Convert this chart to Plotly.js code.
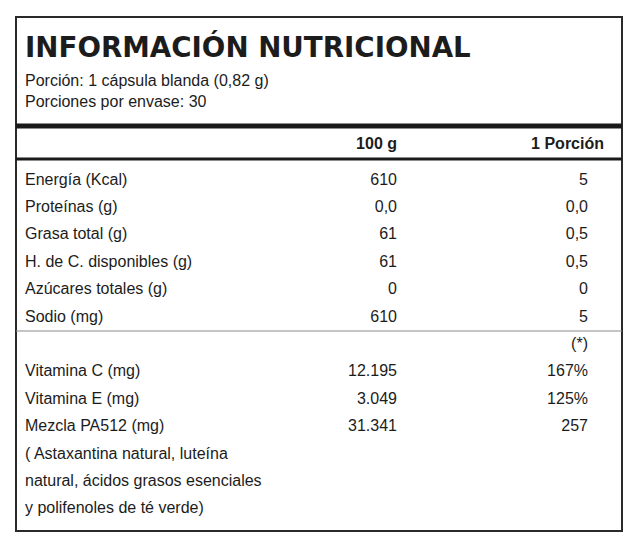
<!DOCTYPE html>
<html>
<head>
<meta charset="utf-8">
<script src="https://cdn.plot.ly/plotly-3.0.1.min.js"></script>
<style>
  html, body { margin: 0; padding: 0; background: #fff; }
  #chart { width: 638px; height: 550px; }
</style>
</head>
<body>
<div id="chart"></div>
<script>
(function () {
  'use strict';

  /* ---- datos de la tabla ---- */
  var TITLE = 'INFORMACIÓN NUTRICIONAL';
  var SUBTITLE = ['Porción: 1 cápsula blanda (0,82 g)', 'Porciones por envase: 30'];
  var COL_HEADERS = ['100 g', '1 Porción'];
  var NUTRIENTS = ['Energía (Kcal)', 'Proteínas (g)', 'Grasa total (g)', 'H. de C. disponibles (g)', 'Azúcares totales (g)', 'Sodio (mg)'];
  var PER_100G = ['610', '0,0', '61', '61', '0', '610'];
  var PER_PORTION = ['5', '0,0', '0,5', '0,5', '0', '5'];
  var EXTRA_NOTE = '(*)';
  var EXTRAS = ['Vitamina C (mg)', 'Vitamina E (mg)', 'Mezcla PA512 (mg)'];
  var EXTRA_100G = ['12.195', '3.049', '31.341'];
  var EXTRA_PORTION = ['167%', '125%', '257'];
  var BLEND_LINES = ['( Astaxantina natural, luteína', 'natural, ácidos grasos esenciales', 'y polifenoles de té verde)'];

  /* ---- geometría (px) ---- */
  var W = 638, H = 550;
  var ROW0 = 180.5, ROW_H = 27.4;
  var X_LABEL = 25, X_COL1 = 397, X_COL2 = 588, X_HEAD2 = 604;
  var INK = '#1c1c1c';
  var BODY = { family: 'Liberation Sans Narrow, Arial Narrow, Liberation Sans, sans-serif', size: 16, color: INK };
  var BOLD = Object.assign({}, BODY, { weight: 'bold' });

  function rowY(i) { return ROW0 + i * ROW_H; }

  // filas: 0..5 nutrientes, 6 = (*), 7..9 vitaminas/mezcla, 10..12 descripción
  var labelText = NUTRIENTS.concat(['']).concat(EXTRAS).concat(BLEND_LINES);
  var col1Text = PER_100G.concat(['']).concat(EXTRA_100G);
  var col2Text = PER_PORTION.concat([EXTRA_NOTE]).concat(EXTRA_PORTION);

  function ys(n) { var a = []; for (var i = 0; i < n; i++) a.push(rowY(i)); return a; }
  function fill(v, n) { var a = []; for (var i = 0; i < n; i++) a.push(v); return a; }

  var traces = [
    { x: fill(X_LABEL, labelText.length), y: ys(labelText.length), text: labelText,
      mode: 'text', textposition: 'middle right', textfont: BODY, hoverinfo: 'skip' },
    { x: fill(X_COL1, col1Text.length), y: ys(col1Text.length), text: col1Text,
      mode: 'text', textposition: 'middle left', textfont: BODY, hoverinfo: 'skip' },
    { x: fill(X_COL2, col2Text.length), y: ys(col2Text.length), text: col2Text,
      mode: 'text', textposition: 'middle left', textfont: BODY, hoverinfo: 'skip' },
    { x: [X_COL1, X_HEAD2], y: [144.5, 144.5], text: COL_HEADERS,
      mode: 'text', textposition: 'middle left', textfont: BOLD, hoverinfo: 'skip' },
    { x: [X_LABEL, X_LABEL], y: [81.5, 103], text: SUBTITLE,
      mode: 'text', textposition: 'middle right', textfont: BODY, hoverinfo: 'skip' },
    { x: [X_LABEL], y: [50], text: [TITLE],
      mode: 'text', textposition: 'middle right', hoverinfo: 'skip',
      textfont: { family: 'DejaVu Sans, sans-serif', size: 27.7, color: INK, weight: 'bold' } }
  ];

  function hline(y, w, c) {
    return { type: 'line', xref: 'x', yref: 'y', x0: 16, x1: 622, y0: y, y1: y, line: { color: c, width: w } };
  }

  var layout = {
    width: W, height: H,
    margin: { l: 0, r: 0, t: 0, b: 0 },
    paper_bgcolor: '#fff', plot_bgcolor: '#fff',
    showlegend: false, dragmode: false,
    xaxis: { range: [0, W], visible: false, fixedrange: true },
    yaxis: { range: [H, 0], visible: false, fixedrange: true },
    shapes: [
      { type: 'rect', xref: 'x', yref: 'y', x0: 16, x1: 622, y0: 17, y1: 531, line: { color: '#2a2a2a', width: 2 } },
      hline(126, 5, '#1a1a1a'),
      hline(159, 3, '#1a1a1a'),
      hline(331, 1, '#8a8a8a')
    ]
  };

  Plotly.newPlot('chart', traces, layout, { displayModeBar: false, staticPlot: true });
})();
</script>
</body>
</html>
